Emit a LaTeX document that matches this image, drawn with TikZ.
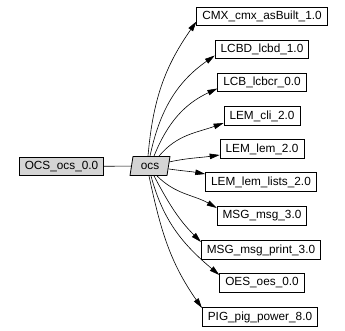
\documentclass[tikz,border=0pt]{standalone}
\usepackage{fontspec}
\setmainfont{Liberation Sans}
\usetikzlibrary{shapes.geometric,arrows.meta}
\begin{document}
\begin{tikzpicture}[x=1pt,y=-1pt,
  box/.style={draw=black,line width=0.8pt,rectangle,minimum height=18.5pt,inner xsep=5.5pt,inner ysep=0pt,font=\fontsize{11.8}{13}\selectfont},
  gbox/.style={box,fill=black!17},
  para/.style={draw=black,line width=0.8pt,fill=black!17,trapezium,trapezium stretches=true,trapezium left angle=73,trapezium right angle=107,minimum height=19pt,minimum width=40pt,inner xsep=2pt,inner ysep=0pt,font=\fontsize{11.8}{13}\selectfont},
  link/.style={draw=black,line width=0.6pt},
  arr/.style={link,-{Triangle[length=10pt,width=5.5pt]}}]
\useasboundingbox (0,0) rectangle (345,331);
\node[gbox] (src) at (61.5,166.5) {OCS\_ocs\_0.0};
\node[para] (ocs) at (150,166) {ocs};
\node[box] (n0) at (262,16.5) {CMX\_cmx\_asBuilt\_1.0};
\node[box] (n1) at (262,49.5) {LCBD\_lcbd\_1.0};
\node[box] (n2) at (262,82.5) {LCB\_lcbcr\_0.0};
\node[box] (n3) at (262,116) {LEM\_cli\_2.0};
\node[box] (n4) at (262,149) {LEM\_lem\_2.0};
\node[box] (n5) at (261,182) {LEM\_lem\_lists\_2.0};
\node[box] (n6) at (262,216) {MSG\_msg\_3.0};
\node[box] (n7) at (261,250) {MSG\_msg\_print\_3.0};
\node[box] (n8) at (262,283) {OES\_oes\_0.0};
\node[box] (n9) at (260,317) {PIG\_pig\_power\_8.0};
\draw[link] (src) -- (ocs);
\draw[arr] ([xshift=-2pt]ocs.north) to[out=85,in=235] ([yshift=-5pt]n0.west);
\draw[arr] ([xshift=0pt]ocs.north) to[out=78,in=215] ([yshift=-6pt]n1.west);
\draw[arr] ([xshift=4pt]ocs.north) to[out=68,in=205] ([yshift=-6pt]n2.west);
\draw[arr] ([xshift=9pt]ocs.north) to[out=50,in=200] ([yshift=-7pt]n3.west);
\draw[arr] ([yshift=4pt]ocs.east) to[out=12,in=188] ([yshift=-6pt]n4.west);
\draw[arr] ([yshift=-3pt]ocs.east) to[out=-8,in=170] ([yshift=8pt]n5.west);
\draw[arr] ([xshift=7pt]ocs.south) to[out=-45,in=150] ([yshift=8pt]n6.west);
\draw[arr] ([xshift=4pt]ocs.south) to[out=-62,in=135] ([yshift=8pt]n7.west);
\draw[arr] ([xshift=1pt]ocs.south) to[out=-75,in=140] ([yshift=8pt]n8.west);
\draw[arr] ([xshift=-1pt]ocs.south) to[out=-78,in=125] ([yshift=9pt]n9.west);
\end{tikzpicture}
\end{document}
